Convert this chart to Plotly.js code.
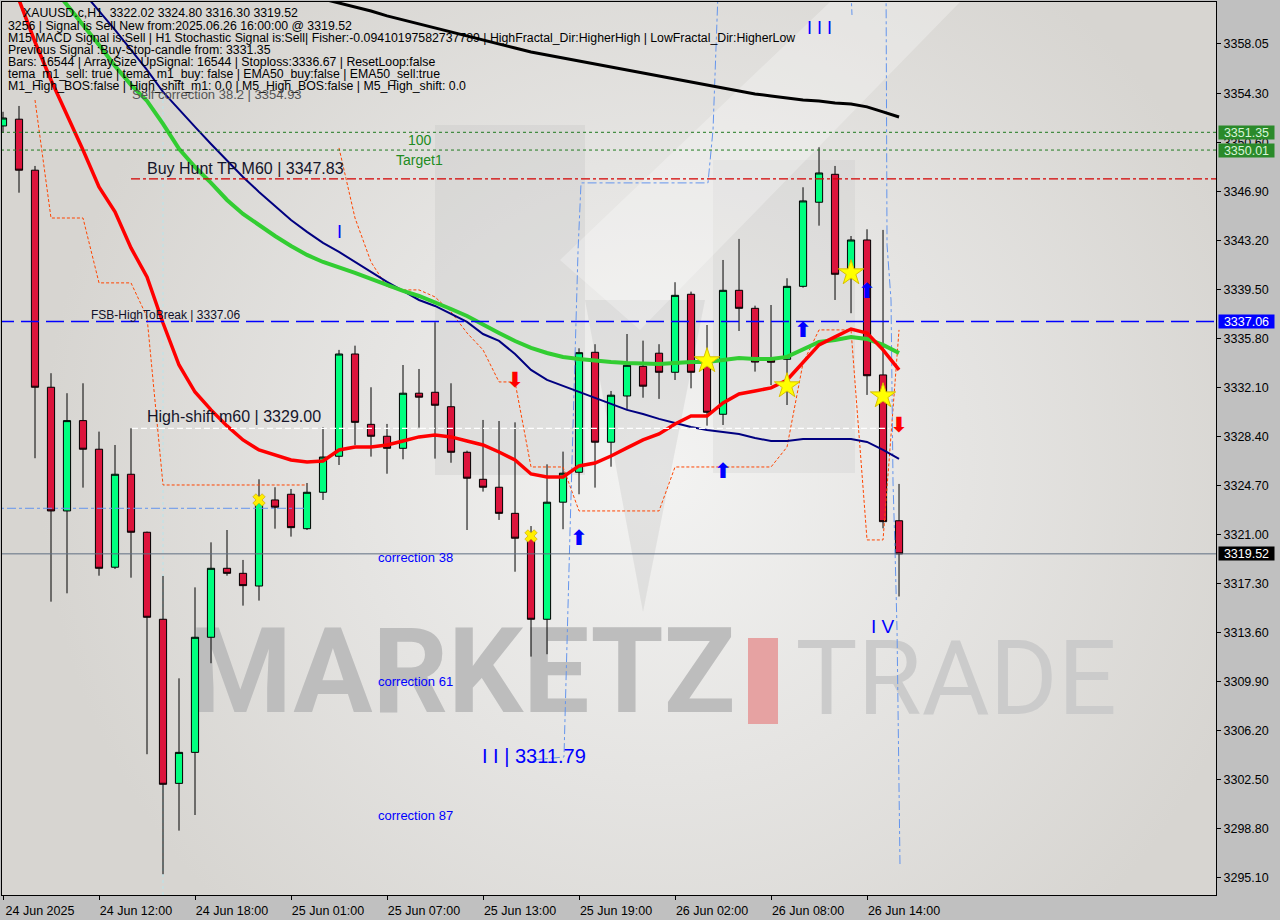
<!DOCTYPE html>
<html><head><meta charset="utf-8">
<script src="https://cdn.plot.ly/plotly-3.0.1.min.js"></script>
<style>html,body{margin:0;padding:0;background:#c0c0c0;}#chart{width:1280px;height:920px;}</style>
</head><body><div id="chart"></div>
<script>
// ---------- DATA ----------
const times = [
"2025-06-24 06:00","2025-06-24 07:00","2025-06-24 08:00","2025-06-24 09:00","2025-06-24 10:00","2025-06-24 11:00",
"2025-06-24 12:00","2025-06-24 13:00","2025-06-24 14:00","2025-06-24 15:00","2025-06-24 16:00","2025-06-24 17:00",
"2025-06-24 18:00","2025-06-24 19:00","2025-06-24 20:00","2025-06-24 21:00","2025-06-24 22:00","2025-06-24 23:00",
"2025-06-25 01:00","2025-06-25 02:00","2025-06-25 03:00","2025-06-25 04:00","2025-06-25 05:00","2025-06-25 06:00",
"2025-06-25 07:00","2025-06-25 08:00","2025-06-25 09:00","2025-06-25 10:00","2025-06-25 11:00","2025-06-25 12:00",
"2025-06-25 13:00","2025-06-25 14:00","2025-06-25 15:00","2025-06-25 16:00","2025-06-25 17:00","2025-06-25 18:00",
"2025-06-25 19:00","2025-06-25 20:00","2025-06-25 21:00","2025-06-25 22:00","2025-06-25 23:00",
"2025-06-26 01:00","2025-06-26 02:00","2025-06-26 03:00","2025-06-26 04:00","2025-06-26 05:00","2025-06-26 06:00",
"2025-06-26 07:00","2025-06-26 08:00","2025-06-26 09:00","2025-06-26 10:00","2025-06-26 11:00","2025-06-26 12:00",
"2025-06-26 13:00","2025-06-26 14:00","2025-06-26 15:00","2025-06-26 16:00"];

const open = [3351.83,3352.34,3348.49,3332.10,3322.76,3329.58,3327.42,3318.51,3325.53,3321.15,
3314.58,3302.19,3304.53,3313.22,3318.43,3318.05,3317.09,3323.59,3324.02,3321.42,
3324.17,3326.89,3334.61,3329.30,3328.40,3327.49,3331.65,3331.72,3330.63,3327.19,
3325.15,3324.55,3322.58,3320.77,3314.58,3323.42,3325.68,3334.74,3327.95,3331.44,
3333.68,3334.67,3333.23,3339.12,3334.01,3330.06,3339.42,3338.06,3334.24,3334.21,
3339.72,3346.07,3348.18,3340.71,3343.22,3333.03,3322.02];
const high = [3352.90,3353.34,3348.81,3333.16,3331.65,3332.40,3328.75,3327.74,3329.00,3321.20,
3317.85,3310.12,3316.99,3320.39,3321.32,3319.06,3325.15,3324.55,3324.42,3324.87,
3329.08,3334.92,3335.24,3332.10,3329.33,3333.78,3333.48,3337.01,3332.40,3327.31,
3329.63,3329.55,3329.45,3321.62,3326.28,3327.24,3335.04,3335.35,3331.82,3336.12,
3335.62,3335.35,3340.03,3339.32,3336.80,3341.71,3343.30,3338.26,3338.31,3340.33,
3347.20,3350.22,3348.81,3343.52,3344.03,3343.98,3324.80];
const low = [3351.30,3346.79,3326.74,3315.91,3316.54,3324.52,3317.87,3318.38,3317.72,3304.39,
3295.33,3298.62,3299.80,3311.26,3317.87,3315.61,3315.99,3321.42,3320.82,3321.32,
3323.59,3326.23,3327.74,3326.86,3325.57,3326.66,3329.05,3326.71,3326.40,3321.32,
3324.22,3322.08,3318.17,3311.76,3311.94,3321.38,3324.02,3324.52,3326.10,3330.38,
3331.31,3331.22,3332.65,3332.02,3329.20,3329.25,3336.35,3333.28,3332.27,3330.76,
3339.62,3344.30,3338.69,3337.69,3331.52,3321.45,3316.30];
const close = [3352.43,3348.49,3332.10,3322.76,3329.58,3327.42,3318.43,3325.53,3321.15,3314.73,
3302.12,3304.53,3313.22,3318.43,3318.05,3317.12,3323.51,3323.04,3321.50,3324.17,
3326.83,3334.61,3329.45,3328.40,3327.49,3331.65,3331.35,3330.74,3327.19,3325.23,
3324.55,3322.58,3320.70,3314.58,3323.42,3325.61,3334.71,3327.95,3331.50,3333.76,
3332.18,3333.23,3339.04,3333.23,3330.21,3339.42,3338.06,3334.00,3333.99,3339.72,
3346.17,3348.28,3340.63,3343.22,3332.97,3321.95,3319.52];

// moving averages (read per bar)
const maBlack = [null,null,null,null,null,null,null,null,null,null,
null,null,null,null,null,null,null,null,3362.02,3361.72,
3361.42,3361.12,3360.82,3360.51,3360.14,3359.83,3359.53,3359.23,3358.93,3358.63,
3358.32,3358.02,3357.72,3357.42,3357.19,3356.97,3356.74,3356.51,3356.29,3356.06,
3355.83,3355.61,3355.38,3355.15,3354.93,3354.70,3354.47,3354.25,3354.10,3353.94,
3353.79,3353.72,3353.57,3353.49,3353.27,3352.89,3352.51];
const maNavy = [null,null,null,null,3363.38,3361.95,3360.51,3359.08,3357.57,3356.06,
3354.40,3353.04,3351.76,3350.47,3349.19,3347.98,3346.85,3345.79,3344.73,3343.83,
3343.00,3342.32,3341.56,3340.81,3340.05,3339.37,3338.69,3338.24,3337.63,3337.03,
3336.12,3335.60,3334.61,3333.41,3332.65,3332.20,3331.74,3331.29,3330.84,3330.39,
3330.08,3329.71,3329.40,3329.10,3328.88,3328.72,3328.57,3328.27,3328.04,3328.04,
3328.20,3328.20,3328.20,3328.20,3327.97,3327.37,3326.69];
const maGreen = [null,null,3363.99,3362.48,3361.04,3359.53,3357.95,3356.36,3354.93,3353.72,
3351.98,3350.10,3348.73,3347.53,3346.24,3345.19,3344.35,3343.52,3342.77,3342.09,
3341.56,3341.18,3340.73,3340.28,3339.82,3339.37,3338.99,3338.54,3338.01,3337.48,
3336.88,3336.20,3335.59,3335.07,3334.69,3334.39,3334.24,3334.09,3334.01,3333.93,
3333.86,3333.86,3333.93,3334.01,3334.01,3334.16,3334.31,3334.24,3334.24,3334.39,
3334.92,3335.52,3335.67,3335.90,3335.75,3335.30,3334.69];
const maRed = [3363.61,3361.35,3358.17,3355.30,3352.66,3350.02,3347.22,3345.34,3342.62,3340.43,
3336.95,3333.78,3331.74,3330.39,3329.18,3328.12,3327.36,3326.99,3326.61,3326.46,
3326.53,3327.36,3327.59,3327.59,3327.74,3328.04,3328.35,3328.50,3328.35,3328.04,
3327.74,3327.21,3326.61,3325.55,3325.32,3325.32,3326.16,3326.38,3326.91,3327.52,
3328.12,3328.57,3329.33,3329.93,3329.93,3330.91,3331.59,3331.82,3332.05,3332.65,
3334.01,3335.30,3335.90,3336.50,3336.20,3334.92,3333.41];
// stepped channel (orange dotted)
const stepLine = [null,null,3353.79,3344.88,3344.88,3344.88,3339.98,3339.98,3339.98,3337.41,
3324.72,3324.72,3324.72,3324.72,3324.72,3324.72,3324.72,3324.72,3324.72,3324.72,
null,3350.17,3344.88,3341.56,3339.67,3339.45,3339.45,3338.92,3337.79,3336.20,
3334.92,3332.50,3332.50,3326.08,3326.08,3326.08,3322.76,3322.76,3322.76,3322.76,
3322.76,3322.76,3326.08,3326.08,3326.08,3326.08,3326.08,3326.08,3326.08,3327.59,
3333.93,3336.43,3336.43,3336.43,3320.57,3320.57,3336.43];
// zigzag (light blue dash-dot): bar position and price
const zzBar   = [33.125,35.06,35.44,35.94,36.125,44.06,44.375,44.69,null,53.0,53.06,null,55.19,55.25,55.5,55.625,55.75,55.875,56.06];
const zzPrice = [3303.96,3304.18,3321.33,3342.47,3347.53,3347.53,3351.53,3362.0,null,3362.0,3360.21,null,3362.0,3342.85,3338.69,3324.87,3319.81,3313.77,3296.03];

// signal markers
const starTimes = ["2025-06-26 04:00","2025-06-26 09:00","2025-06-26 13:00","2025-06-26 15:00"];
const starPrices = [3334.09,3332.20,3340.73,3331.44];
const crossTimes = ["2025-06-24 22:00","2025-06-25 16:00"];
const crossPrices = [3323.59,3320.87];
const upTimes = ["2025-06-25 19:00","2025-06-26 05:00","2025-06-26 10:00","2025-06-26 14:00"];
const upPrices = [3320.57,3325.63,3336.27,3339.22];
const downTimes = ["2025-06-25 15:00","2025-06-26 16:00"];
const downPrices = [3332.50,3329.10];

// horizontal levels
const levelPrices = [3351.35,3350.01,3347.83,3337.06,3329.00,3322.96,3319.52];
const levelFromBar = [-2,-2,8.0,-2,8.06,-2,-2];
const levelToBar   = [90,90,90,90,55.4,19.0,90];
const separatorTime = "2025-06-24 16:00";

// axis ticks
const xTickTimes = ["2025-06-24 06:00","2025-06-24 12:00","2025-06-24 18:00","2025-06-25 01:00","2025-06-25 07:00",
"2025-06-25 13:00","2025-06-25 19:00","2025-06-26 02:00","2025-06-26 08:00","2025-06-26 14:00"];
const xTickLabels = ["24 Jun 2025","24 Jun 12:00","24 Jun 18:00","25 Jun 01:00","25 Jun 07:00",
"25 Jun 13:00","25 Jun 19:00","26 Jun 02:00","26 Jun 08:00","26 Jun 14:00"];
const yTicks = [3358.05,3354.30,3350.60,3346.90,3343.20,3339.50,3335.80,3332.10,3328.40,3324.70,
3321.00,3317.30,3313.60,3309.90,3306.20,3302.50,3298.80,3295.10];
const priceTags = [3351.35,3350.01,3337.06,3319.52];

const headerLines = [
"XAUUSD.c,H1\u00a0 3322.02 3324.80 3316.30 3319.52",
"3256 | Signal is Sell New from:2025.06.26 16:00:00 @ 3319.52",
"M15 MACD Signal is:Sell | H1 Stochastic Signal is:Sell| Fisher:-0.09410197582737789 | HighFractal_Dir:HigherHigh | LowFractal_Dir:HigherLow",
"Previous Signal :Buy-Stop-candle from: 3331.35",
"Bars: 16544 | ArraySize UpSignal: 16544 | Stoploss:3336.67 | ResetLoop:false",
"tema_m1_sell: true | tema_m1_buy: false | EMA50_buy:false | EMA50_sell:true",
"M1_High_BOS:false | High_shift_m1: 0.0 | M5_High_BOS:false | M5_High_shift: 0.0"];

// ---------- BUILD ----------
const idx = times.map((t, i) => i);
const at = t => times.indexOf(t);
const FONT = "Liberation Sans, Arial, sans-serif";
const XA = 'x2', YA = 'y2';

const traces = [];
// watermark on base (lowest) subplot
traces.push({type:'scatter', mode:'text', x:[0.379], y:[0.2385], text:['MARKETZ'], xaxis:'x', yaxis:'y',
  textfont:{family:'Roboto, Liberation Sans, sans-serif', size:118, color:'#bdbdbd', weight:700}, hoverinfo:'skip'});
traces.push({type:'scatter', mode:'text', x:[0.786], y:[0.232], text:['TRADE'], xaxis:'x', yaxis:'y',
  textfont:{family:'Roboto, Liberation Sans, sans-serif', size:104, color:'#cbcbcb', weight:400}, hoverinfo:'skip'});

traces.push({type:'candlestick', x:idx, open:open, high:high, low:low, close:close, xaxis:XA, yaxis:YA,
  increasing:{fillcolor:'#00ff7f', line:{color:'#000000', width:1}},
  decreasing:{fillcolor:'#dc143c', line:{color:'#000000', width:1}},
  whiskerwidth:0, hoverinfo:'skip'});

traces.push({type:'scatter', mode:'lines', x:idx, y:stepLine, xaxis:XA, yaxis:YA, connectgaps:false,
  line:{color:'#ff4500', width:1, dash:'3px,2px'}, hoverinfo:'skip'});
traces.push({type:'scatter', mode:'lines', x:zzBar, y:zzPrice, xaxis:XA, yaxis:YA, connectgaps:false,
  line:{color:'#6495ed', width:1, dash:'dashdot'}, hoverinfo:'skip'});
traces.push({type:'scatter', mode:'lines', x:idx, y:maBlack, xaxis:XA, yaxis:YA, line:{color:'#000000', width:3}, hoverinfo:'skip'});
traces.push({type:'scatter', mode:'lines', x:idx, y:maNavy, xaxis:XA, yaxis:YA, line:{color:'#000080', width:2}, hoverinfo:'skip'});
traces.push({type:'scatter', mode:'lines', x:idx, y:maGreen, xaxis:XA, yaxis:YA, line:{color:'#32cd32', width:4}, hoverinfo:'skip'});
traces.push({type:'scatter', mode:'lines', x:idx, y:maRed, xaxis:XA, yaxis:YA, line:{color:'#ff0000', width:3.5}, hoverinfo:'skip'});

traces.push({type:'scatter', mode:'markers', x:starTimes.map(at), y:starPrices, xaxis:XA, yaxis:YA,
  marker:{symbol:'star', size:19, color:'#ffff00', line:{color:'#d8c000', width:1}}, hoverinfo:'skip'});
traces.push({type:'scatter', mode:'markers', x:crossTimes.map(at), y:crossPrices, xaxis:XA, yaxis:YA,
  marker:{symbol:'x', size:11, color:'#ffee00', line:{color:'#c8a000', width:0.6}}, hoverinfo:'skip'});
traces.push({type:'scatter', mode:'text', x:upTimes.map(at), y:upPrices, xaxis:XA, yaxis:YA,
  text:upTimes.map(() => '\u2B06'), textfont:{family:'DejaVu Sans', size:21, color:'#0000ff', weight:700}, hoverinfo:'skip'});
traces.push({type:'scatter', mode:'text', x:downTimes.map(at), y:downPrices, xaxis:XA, yaxis:YA,
  text:downTimes.map(() => '\u2B07'), textfont:{family:'DejaVu Sans', size:21, color:'#ff0000', weight:700}, hoverinfo:'skip'});

// level shapes
const levelStyles = [
  {color:'#1f7a1f', width:1, dash:'3px,3px'},
  {color:'#1f7a1f', width:1, dash:'3px,3px'},
  {color:'#d40000', width:1.2, dash:'dashdot'},
  {color:'#0000ff', width:1.4, dash:'18px,7px'},
  {color:'#ffffff', width:1.2, dash:'6px,3px'},
  {color:'#6495ed', width:1, dash:'dashdot'},
  {color:'#5f6f82', width:1, dash:'solid'}];
const shapes = levelPrices.map((p, k) => ({type:'line', xref:XA, yref:YA, x0:levelFromBar[k], x1:levelToBar[k], y0:p, y1:p,
  line:levelStyles[k], layer:'above'}));
shapes.push({type:'line', xref:XA, yref:'paper', x0:at(separatorTime), x1:at(separatorTime), y0:0, y1:1,
  line:{color:'#b8e4ea', width:1, dash:'dot'}, layer:'below'});

// annotations
const annotations = [];
const headerPos = [[22,12.7],[7,25.5],[7,37.6],[7,50],[7,62],[7,74],[7,86]];
headerLines.forEach((t, k) => annotations.push({text:t, xref:'paper', yref:'paper', x:0, y:1, xanchor:'left', yanchor:'middle',
  xshift:headerPos[k][0]-3, yshift:-(headerPos[k][1]-2), showarrow:false, font:{family:FONT, size:12.3, color:'#000000'}}));
function lab(text, x, y, xa, ya, size, color, extra) {
  annotations.push(Object.assign({text:text, xref:XA, yref:YA, x:x, y:y, xanchor:xa, yanchor:ya, showarrow:false,
    font:{family:FONT, size:size, color:color}}, extra || {}));
}
lab('Self correction 38.2 | 3354.93', 7.94, 3354.93, 'left', 'top', 13, '#555555', {yshift:0});
lab('Buy Hunt TP M60 | 3347.83', 8.875, levelPrices[2], 'left', 'bottom', 16, '#15152a', {yshift:0});
lab('100', 26.06, levelPrices[1], 'center', 'bottom', 14, '#228b22', {yshift:0});
lab('Target1', 26.06, levelPrices[1], 'center', 'top', 14, '#228b22', {yshift:0});
lab('FSB-HighToBreak | 3337.06', 5.375, levelPrices[3], 'left', 'bottom', 12, '#10102a', {yshift:-2});
lab('High-shift m60 | 3329.00', 8.875, levelPrices[4], 'left', 'bottom', 16, '#15152a', {yshift:1});
lab('correction 38', 23.31, 3319.21, 'left', 'middle', 13, '#0000ff');
lab('correction 61', 23.31, 3309.85, 'left', 'middle', 13, '#0000ff');
lab('correction 87', 23.31, 3299.73, 'left', 'middle', 13, '#0000ff');
lab('I I | 3311.79', 29.81, 3304.26, 'left', 'middle', 20, '#0000ff');
lab('I', 21.06, 3343.83, 'center', 'middle', 18, '#0000ff');
lab('I I I', 51.06, 3359.23, 'center', 'middle', 18, '#0000ff');
lab('I V', 55.0, 3314.07, 'center', 'middle', 19, '#0000ff');

const tagStyles = [
  {bg:'#2a8a2a', fg:'#d8f5d8'},{bg:'#2a8a2a', fg:'#d8f5d8'},{bg:'#0000ff', fg:'#ffffff'},{bg:'#000000', fg:'#ffffff'}];
priceTags.forEach((p, k) => annotations.push({text:p.toFixed(2), xref:'paper', yref:YA, x:1, y:p, xanchor:'left', yanchor:'middle',
  xshift:2, showarrow:false, bgcolor:tagStyles[k].bg, borderpad:0, width:55, height:13, align:'center',
  font:{family:FONT, size:12.5, color:tagStyles[k].fg}}));

// background (gradient + logo shapes, no text)
const bgSvg = '<svg xmlns="http://www.w3.org/2000/svg" width="1214" height="893" viewBox="2 2 1214 893" preserveAspectRatio="none">' +
 '<defs><radialGradient id="g" gradientUnits="userSpaceOnUse" cx="660" cy="470" r="620">' +
 '<stop offset="0" stop-color="#f3f3f2"/><stop offset="0.5" stop-color="#e5e4e2"/><stop offset="1" stop-color="#d7d5d1"/></radialGradient></defs>' +
 '<rect x="0" y="0" width="1300" height="1000" fill="url(#g)"/>' +
 '<polygon points="435,125 585,125 585,475 435,475" fill="#bdbdbd" fill-opacity="0.28"/>' +
 '<polygon points="713,160 855,160 855,473 713,473" fill="#c0c0c0" fill-opacity="0.22"/>' +
 '<polygon points="585,300 705,300 643,612" fill="#bbbbbb" fill-opacity="0.28"/>' +
 '<polygon points="830,2 960,2 640,330 560,260" fill="#ffffff" fill-opacity="0.28"/>' +
 '<rect x="748" y="638" width="30" height="86" fill="#e6a2a2"/>' +
 '</svg>';

const layout = {
  width:1280, height:920,
  margin:{l:2, r:64, t:2, b:25, pad:0},
  paper_bgcolor:'#c0c0c0', plot_bgcolor:'#d8d6d2',
  showlegend:false, boxgap:0.36, hovermode:false,
  font:{family:FONT, color:'#000000'},
  xaxis:{domain:[0,1], range:[0,1], visible:false, fixedrange:true},
  yaxis:{domain:[0,1], range:[0,1], visible:false, fixedrange:true},
  xaxis2:{overlaying:'x', anchor:'y2', type:'linear', range:[-0.0625, 75.81],
    tickvals:xTickTimes.map(at), ticktext:xTickLabels, ticks:'outside', ticklen:4, tickcolor:'#000000',
    showgrid:false, zeroline:false, showline:true, linecolor:'#000000', linewidth:1, mirror:true,
    rangeslider:{visible:false}, tickfont:{family:FONT, size:12.5, color:'#000000'}, ticklabelshift:37},
  yaxis2:{overlaying:'y', anchor:'x2', side:'right', range:[3293.76, 3361.19],
    tickvals:yTicks, ticktext:yTicks.map(v => v.toFixed(2)), ticks:'outside', ticklen:4, tickcolor:'#000000',
    showgrid:false, zeroline:false, showline:true, linecolor:'#000000', linewidth:1, mirror:true,
    tickfont:{family:FONT, size:12.5, color:'#000000'}},
  shapes:shapes, annotations:annotations,
  images:[{source:'data:image/svg+xml;charset=utf-8,' + encodeURIComponent(bgSvg), xref:'paper', yref:'paper',
    x:0, y:1, sizex:1, sizey:1, sizing:'stretch', xanchor:'left', yanchor:'top', layer:'below'}]
};
Plotly.newPlot('chart', traces, layout, {displayModeBar:false, staticPlot:true});
</script></body></html>
